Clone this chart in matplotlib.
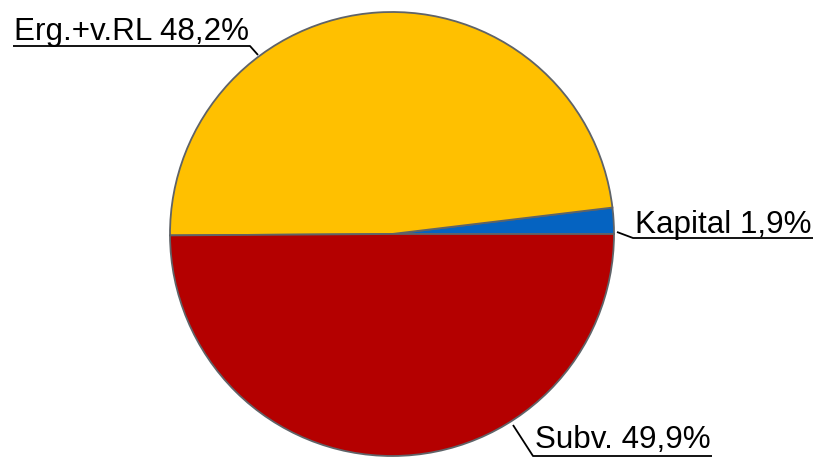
import matplotlib.pyplot as plt

labels = ["Kapital", "Erg.+v.RL", "Subv."]
values = [1.9, 48.2, 49.9]
colors = ["#0563C1", "#FFC000", "#B40000"]

W, H = 818, 458
fig = plt.figure(figsize=(W / 100, H / 100), dpi=100)
ax = fig.add_axes([0, 0, 1, 1])

ax.pie(values, colors=colors, startangle=0, counterclock=True,
       center=(392, H - 234), radius=222, frame=True,
       wedgeprops=dict(edgecolor="#5f6368", linewidth=1.3))
ax.set_xlim(0, W)
ax.set_ylim(0, H)
ax.set_aspect("equal")
ax.axis("off")

# label text + leader line (pixel positions, y from top)
label_pos = {
    "Erg.+v.RL": dict(tx=14, ty=40, line=[(258, 55), (250, 46), (13, 46)]),
    "Kapital": dict(tx=635, ty=233, line=[(617, 232), (633, 238), (813, 238)]),
    "Subv.": dict(tx=535, ty=448, line=[(513, 425), (533, 456), (712, 456)]),
}

for lab, val in zip(labels, values):
    p = label_pos[lab]
    txt = f"{lab} " + f"{val:.1f}".replace(".", ",") + "%"
    ax.text(p["tx"], H - p["ty"], txt, ha="left", va="baseline",
            fontsize=22.6, family="Liberation Sans", color="black")
    xs = [pt[0] for pt in p["line"]]
    ys = [H - pt[1] for pt in p["line"]]
    ax.plot(xs, ys, color="black", linewidth=1.3, solid_capstyle="butt")

fig.savefig("out.png", dpi=100)
